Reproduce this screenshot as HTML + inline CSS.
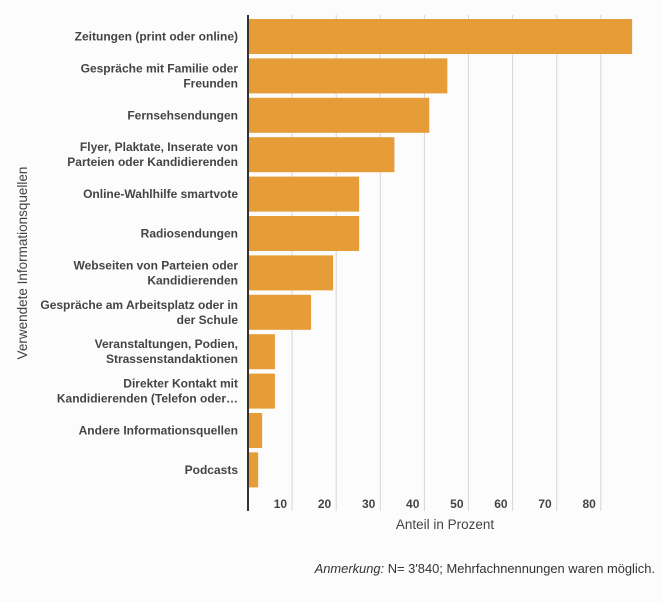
<!DOCTYPE html>
<html><head><meta charset="utf-8"><style>
body{margin:0;background:#fcfcfc;}
svg{display:block;font-family:"Liberation Sans",sans-serif;}
</style></head><body>
<svg id="c" width="661" height="602"></svg>
<script>
const categories=[["Zeitungen (print oder online)"],["Gespräche mit Familie oder","Freunden"],["Fernsehsendungen"],["Flyer, Plaktate, Inserate von","Parteien oder Kandidierenden"],["Online-Wahlhilfe smartvote"],["Radiosendungen"],["Webseiten von Parteien oder","Kandidierenden"],["Gespräche am Arbeitsplatz oder in","der Schule"],["Veranstaltungen, Podien,","Strassenstandaktionen"],["Direkter Kontakt mit","Kandidierenden (Telefon oder…"],["Andere Informationsquellen"],["Podcasts"]];
const values=[87.1,45.2,41.1,33.2,25.2,25.2,19.3,14.3,6.1,6.1,3.2,2.3];
const ticks=[10,20,30,40,50,60,70,80];
const svg=document.getElementById('c');const NS='http://www.w3.org/2000/svg';
const x0=248,pxPer=4.41,top0=19,step=39.4,bh=35;
const X=v=>x0+v*pxPer, Y=i=>top0+i*step;
function mk(t,a,p){const e=document.createElementNS(NS,t);for(const k in a)e.setAttribute(k,a[k]);(p||svg).appendChild(e);return e;}
ticks.forEach(t=>{
 const g=mk('line',{x1:X(t),x2:X(t),y1:15,y2:511,stroke:'#d6d6d6','stroke-width':1});
 
 
 const l=mk('text',{x:X(t)-5,y:508,'text-anchor':'end','font-size':12,'font-weight':'bold',fill:'#444'});
 l.textContent=t;
 
 
});
values.forEach((v,i)=>{
 const r=mk('rect',{x:x0,y:Y(i),width:X(v)-x0,height:bh,fill:'#e69c37'});
 
 
 const lines=categories[i];const cy=Y(i)+bh/2;
 const t=mk('text',{'text-anchor':'end','font-size':12,'font-weight':'bold',fill:'#444'});
 
 
 lines.forEach((s,j)=>{const ts=mk('tspan',{x:238,y:cy+4+(j-(lines.length-1)/2)*15},t);ts.textContent=s;});
});
const ax=mk('line',{x1:248,x2:248,y1:15,y2:511,stroke:'#333','stroke-width':2});


const xt=mk('text',{x:445,y:529,'text-anchor':'middle','font-size':13.5,fill:'#444'});xt.textContent='Anteil in Prozent';


const yt=mk('text',{x:0,y:0,'text-anchor':'middle','font-size':13.5,fill:'#444',transform:'translate(27,263) rotate(-90)'});yt.textContent='Verwendete Informationsquellen';


const n=mk('text',{x:655,y:573,'text-anchor':'end','font-size':12.9,fill:'#333'});


const a=mk('tspan',{'font-style':'italic'},n);a.textContent='Anmerkung:';
const b=mk('tspan',{},n);b.textContent=' N= 3\'840; Mehrfachnennungen waren möglich.';
</script></body></html>
